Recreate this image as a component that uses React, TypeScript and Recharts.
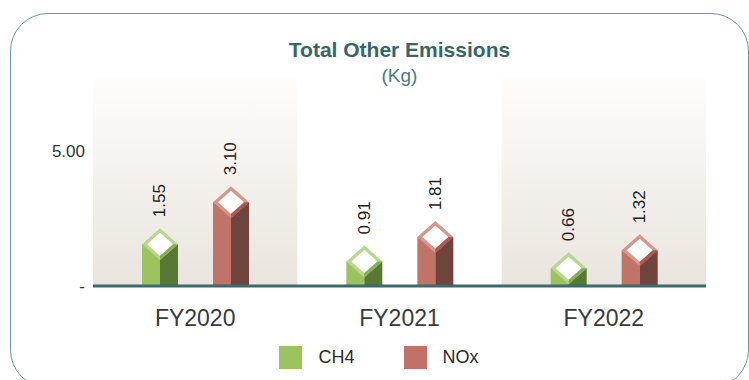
import { BarChart, Bar, XAxis, YAxis, ReferenceArea, Legend } from 'recharts'

const years = ['FY2020', 'FY2021', 'FY2022']
const ch4 = [1.55, 0.91, 0.66]
const nox = [3.1, 1.81, 1.32]
const shadedYears = ['FY2020', 'FY2022']
const yTicks = [0, 5]

const data = years.map((year, i) => ({ year, ch4: ch4[i], nox: nox[i] }))

const FONT = '"Liberation Sans", Arial, Helvetica, sans-serif'
const TEAL = '#336768'

const palette = {
    ch4: { front: '#9cc45e', side: '#587936', rim: '#b8d78e', rimDark: '#87ae55', legend: '#9cc45e' },
    nox: { front: '#c07367', side: '#6f443d', rim: '#d8968a', rimDark: '#a9594e', legend: '#c07266' },
}

const TOP_H = 16 // half-height of the diamond cap

// square prism: light front face, dark side face, diamond cap with white centre
function Prism(props: any) {
    const { x, y, width, height, colors } = props
    if (width == null || height == null) return null
    const cx = x + width / 2
    const base = y + height
    const hw = width / 2
    const inX = hw - 5
    const inY = TOP_H - 4.5
    return (
        <g>
            <rect x={x} y={y} width={hw} height={base - y} fill={colors.front} />
            <rect x={cx} y={y} width={hw} height={base - y} fill={colors.side} />
            <polygon
                points={`${cx},${y - TOP_H} ${x + width},${y} ${cx},${y + TOP_H} ${x},${y}`}
                fill={colors.rim}
            />
            <polygon points={`${x + width},${y} ${cx},${y + TOP_H} ${cx},${y}`} fill={colors.rimDark} />
            <polygon
                points={`${cx},${y - inY} ${cx + inX},${y} ${cx},${y + inY} ${cx - inX},${y}`}
                fill="#ffffff"
            />
        </g>
    )
}

function ValueLabel(props: any) {
    const { x, y, width, value } = props
    if (value == null) return null
    const cx = x + width / 2
    const start = y - TOP_H - 11
    return (
        <text
            x={cx}
            y={start}
            transform={`rotate(-90, ${cx}, ${start})`}
            textAnchor="start"
            dominantBaseline="central"
            fontSize={17}
            fontFamily={FONT}
            fill="#222"
        >
            {Number(value).toFixed(2)}
        </text>
    )
}

function LegendBox() {
    const items = [
        { name: 'CH4', color: palette.ch4.legend },
        { name: 'NOx', color: palette.nox.legend },
    ]
    return (
        <div style={{ display: 'flex', justifyContent: 'center', alignItems: 'center', height: 42, paddingLeft: 39, fontFamily: FONT }}>
            {items.map((it, i) => (
                <div key={it.name} style={{ display: 'flex', alignItems: 'center', marginLeft: i ? 49 : 0 }}>
                    <span style={{ width: 23, height: 23, background: it.color, display: 'inline-block' }} />
                    <span style={{ marginLeft: 16, fontSize: 18, color: '#2b2b2b' }}>{it.name}</span>
                </div>
            ))}
        </div>
    )
}

export default function App() {
    return (
        <div style={{ position: 'absolute', left: 0, top: 0, width: 749, height: 380, background: '#fff', overflow: 'hidden' }}>
            {/* rounded frame */}
            <div style={{
                position: 'absolute', left: 10, top: 13, width: 739, height: 375,
                boxSizing: 'border-box', border: '1.5px solid #6e9696', borderRadius: 38,
            }} />
            <div style={{
                position: 'absolute', left: 93, width: 613, top: 38, textAlign: 'center',
                fontFamily: FONT, fontWeight: 700, fontSize: 21, color: TEAL, lineHeight: '24px',
            }}>
                Total Other Emissions
            </div>
            <div style={{
                position: 'absolute', left: 93, width: 613, top: 64, textAlign: 'center',
                fontFamily: FONT, fontSize: 19, color: '#4a7a7b', lineHeight: '24px',
            }}>
                (Kg)
            </div>

            <div style={{ position: 'absolute', left: 0, top: 0 }}>
                <BarChart
                    width={749}
                    height={380}
                    data={data}
                    margin={{ top: 78, right: 43, bottom: 2, left: 13 }}
                    barSize={36}
                    barGap={35}
                >
                    <defs>
                        <linearGradient id="bandFill" x1="0" y1="0" x2="0" y2="1">
                            <stop offset="0%" stopColor="#fefdfc" />
                            <stop offset="100%" stopColor="#e9e4dd" />
                        </linearGradient>
                    </defs>

                    {shadedYears.map((yr) => (
                        <ReferenceArea key={yr} x1={yr} x2={yr} fill="url(#bandFill)" fillOpacity={1} stroke="none" />
                    ))}

                    <XAxis
                        dataKey="year"
                        height={50}
                        axisLine={{ stroke: '#3d6b6c', strokeWidth: 3 }}
                        tickLine={false}
                        tickMargin={18}
                        tick={{ fontSize: 23, fill: '#3a3a3a', fontFamily: FONT }}
                    />
                    <YAxis
                        width={80}
                        domain={[0, 7.7]}
                        ticks={yTicks}
                        axisLine={false}
                        tickLine={false}
                        tickFormatter={(v: number) => (v === 0 ? '-' : v.toFixed(2))}
                        tick={{ fontSize: 17, fill: '#333', fontFamily: FONT }}
                    />

                    <Legend verticalAlign="bottom" height={42} content={() => <LegendBox />} />

                    <Bar
                        dataKey="ch4"
                        name="CH4"
                        fill={palette.ch4.legend}
                        isAnimationActive={false}
                        shape={(p: any) => <Prism {...p} colors={palette.ch4} />}
                        label={(p: any) => <ValueLabel {...p} />}
                    />
                    <Bar
                        dataKey="nox"
                        name="NOx"
                        fill={palette.nox.legend}
                        isAnimationActive={false}
                        shape={(p: any) => <Prism {...p} colors={palette.nox} />}
                        label={(p: any) => <ValueLabel {...p} />}
                    />
                </BarChart>
            </div>
        </div>
    )
}
